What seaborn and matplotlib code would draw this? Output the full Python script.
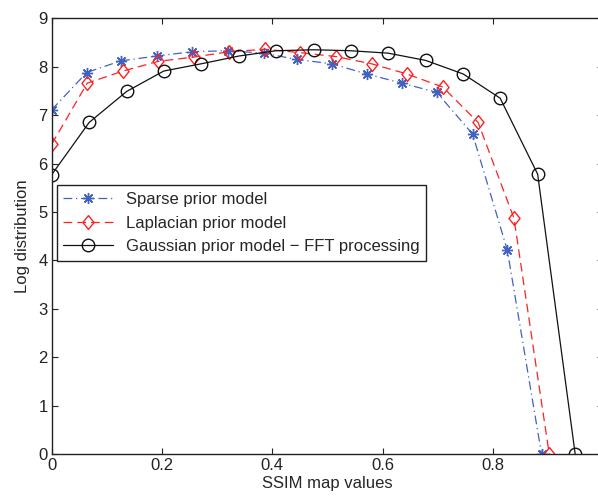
import numpy as np
import pandas as pd
import matplotlib
matplotlib.use("Agg")
import matplotlib.pyplot as plt
import seaborn as sns

# values
sparse_x = [0.0, 0.0635, 0.125, 0.190, 0.254, 0.319, 0.385, 0.444, 0.508, 0.571, 0.635, 0.698, 0.763, 0.826, 0.888]
sparse_y = [7.11, 7.88, 8.12, 8.22, 8.31, 8.33, 8.28, 8.15, 8.06, 7.85, 7.66, 7.47, 6.61, 4.21, 0.0]

laplace_x = [0.0, 0.0644, 0.129, 0.193, 0.258, 0.322, 0.387, 0.451, 0.515, 0.580, 0.644, 0.709, 0.773, 0.838, 0.902]
laplace_y = [6.40, 7.66, 7.91, 8.11, 8.20, 8.31, 8.36, 8.29, 8.21, 8.06, 7.85, 7.58, 6.85, 4.87, 0.0]

gauss_x = [0.0, 0.068, 0.136, 0.203, 0.271, 0.339, 0.407, 0.475, 0.542, 0.610, 0.678, 0.746, 0.813, 0.881, 0.949]
gauss_y = [5.77, 6.85, 7.49, 7.91, 8.06, 8.22, 8.33, 8.35, 8.33, 8.28, 8.13, 7.85, 7.35, 5.78, 0.0]

labels = ["Sparse prior model", "Laplacian prior model", "Gaussian prior model \u2212 FFT processing"]
x_ticks = [0, 0.2, 0.4, 0.6, 0.8]
y_ticks = list(range(10))

sns.set_style("ticks")
plt.rcParams['font.family'] = ['Liberation Sans', 'DejaVu Sans']
plt.rcParams['font.size'] = 12

fig = plt.figure(figsize=(5.98, 4.97), dpi=100)
ax = fig.add_axes([51.7 / 598, 43 / 497, 551.6 / 598, 435.7 / 497])

# matlab-like diamond, a bit taller than wide
diamond = [(0, 1), (0.8, 0), (0, -1), (-0.8, 0), (0, 1)]

sns.lineplot(x=sparse_x, y=sparse_y, ax=ax, sort=False, color="#4262c0", linestyle=(0, (7, 3, 1, 3)),
             linewidth=0.9, marker=(8, 2, 0), markersize=8, markeredgewidth=1.0,
             markeredgecolor="#4262c0", label=labels[0])
sns.lineplot(x=laplace_x, y=laplace_y, ax=ax, sort=False, color="#ff2020", linestyle=(0, (7, 4)),
             linewidth=0.9, marker=diamond, markersize=10, markerfacecolor="none",
             markeredgecolor="#ff2020", markeredgewidth=1.0, label=labels[1])
sns.lineplot(x=gauss_x, y=gauss_y, ax=ax, sort=False, color="#111111", linestyle="-",
             linewidth=0.9, marker="o", markersize=9, markerfacecolor="none",
             markeredgecolor="#111111", markeredgewidth=1.0, label=labels[2])

ax.set_xlim(0, 1)
ax.set_ylim(0, 9)
ax.set_xticks(x_ticks)
ax.set_xticklabels(["0", "0.2", "0.4", "0.6", "0.8"])
ax.set_yticks(y_ticks)
ax.tick_params(direction="in", length=4, width=0.8, top=True, right=True, labelsize=12, pad=3, colors="#222222")
for s in ax.spines.values():
    s.set_visible(True)
    s.set_linewidth(1.0)
    s.set_color("#222222")
ax.set_xlabel("SSIM map values", fontsize=12, labelpad=2)
ax.set_ylabel("Log distribution", fontsize=12, labelpad=6)

leg = ax.legend(loc="upper left", bbox_to_anchor=(0.009, 0.617), borderaxespad=0, fancybox=False,
                edgecolor="#222222", framealpha=1, fontsize=12, handlelength=3.0, handletextpad=0.75,
                borderpad=0.4, labelspacing=0.52)
leg.get_frame().set_linewidth(1.0)

fig.savefig("out.png", dpi=100)
